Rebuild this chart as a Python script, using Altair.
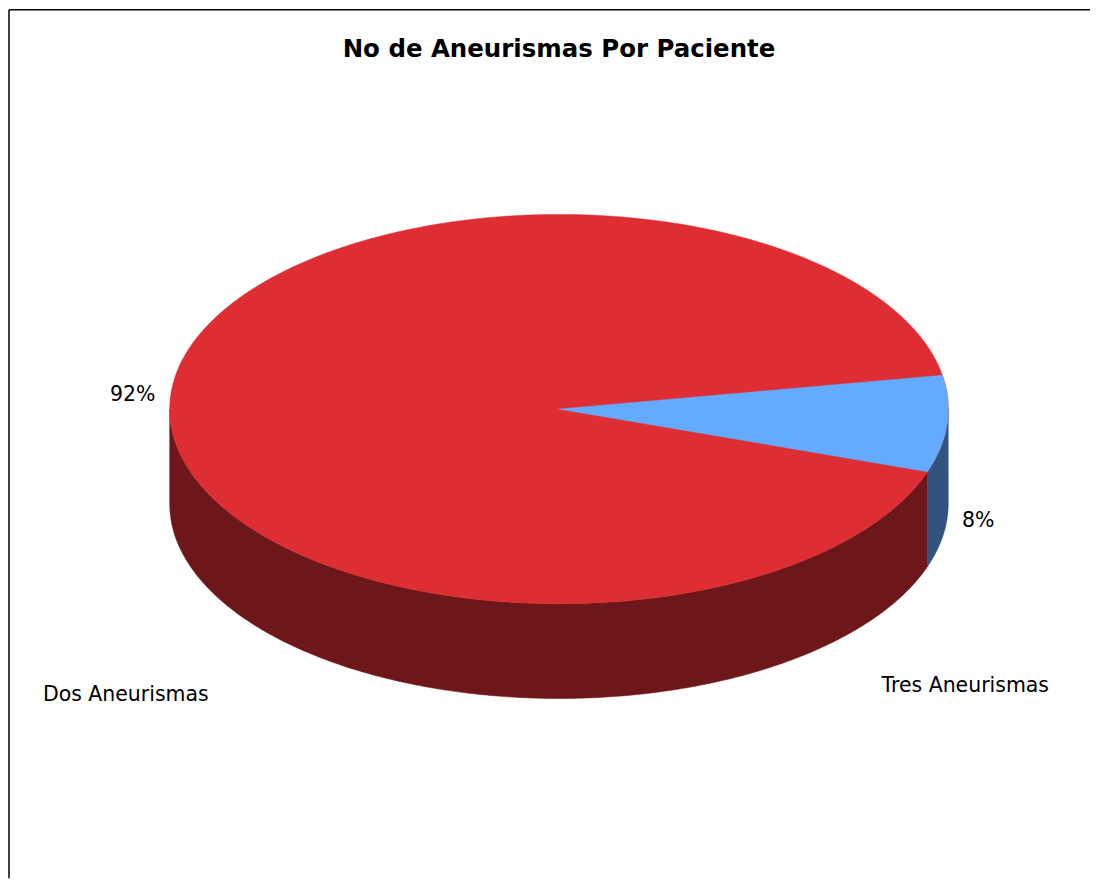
import altair as alt
import numpy as np
import pandas as pd

# ---- data ----
categories = ["Dos Aneurismas", "Tres Aneurismas"]
values = [92, 8]
pct_labels = ["92%", "8%"]
title_text = "No de Aneurismas Por Paciente"

# ---- styles / layout ----
top_colors = ["#DE2D33", "#64AAFF"]
side_colors = ["#6E171A", "#30547F"]
W, H = 1083, 870
CX, CY, RX, RY, DEPTH = 551, 400, 390, 195, 95
START_DEG = 10.0  # upper edge of the second slice (math angle)
pct_pos = [(124, 386), (971, 512)]
cat_pos = [(117, 686), (958, 677)]
title_pos = (551, 40)

total = sum(values)
sweep2 = 2 * np.pi * values[1] / total
a_hi = np.radians(START_DEG)
a_lo = a_hi - sweep2

xs_scale = alt.Scale(domain=[0, W], nice=False, zero=False)
ys_scale = alt.Scale(domain=[0, H], nice=False, zero=False, reverse=True)


def ell(a):
    return CX + RX * np.cos(a), CY - RY * np.sin(a)


def side_wall(a0, a1, n=300):
    a = np.linspace(a0, a1, n)
    x, y = ell(a)
    return pd.DataFrame({"x": x, "y": y, "y2": y + DEPTH})


def area_layer(df, color):
    df = df.sort_values("x").reset_index(drop=True).astype(float)
    return alt.Chart(df).mark_area(fill=color, stroke=color, strokeWidth=0.5,
                                   interpolate="linear", orient="vertical").encode(
        x=alt.X("x:Q", scale=xs_scale, axis=None),
        y=alt.Y("y:Q", scale=ys_scale, axis=None, stack=None),
        y2=alt.Y2("y2:Q"),
    )


# side walls (only front half visible)
dos_side = side_wall(a_lo, -np.pi)
tres_side = side_wall(0.0, a_lo)

# full top ellipse (first slice colour)
t = np.linspace(0, np.pi, 800)
top_df = pd.DataFrame({
    "x": CX + RX * np.cos(t),
    "y": CY - RY * np.sin(t),
    "y2": CY + RY * np.sin(t),
})

# wedge of the second slice on top
p1x, p1y = ell(a_hi)
p2x, p2y = ell(a_lo)
xs = np.unique(np.concatenate([
    np.linspace(CX, CX + RX, 400),
    CX + RX * np.cos(np.linspace(0, 0.7, 300)),
    [p1x, p2x],
]))
half = RY * np.sqrt(np.clip(1 - ((xs - CX) / RX) ** 2, 0, 1))
y_up = np.where(xs <= p1x, CY + (p1y - CY) * (xs - CX) / (p1x - CX), CY - half)
y_lo = np.where(xs <= p2x, CY + (p2y - CY) * (xs - CX) / (p2x - CX), CY + half)
wedge_df = pd.DataFrame({"x": xs, "y": y_up, "y2": y_lo})

layers = [
    area_layer(dos_side, side_colors[0]),
    area_layer(tres_side, side_colors[1]),
    area_layer(top_df, top_colors[0]),
    area_layer(wedge_df, top_colors[1]),
]

lab_df = pd.DataFrame({
    "text": pct_labels + categories,
    "x": [p[0] for p in pct_pos] + [p[0] for p in cat_pos],
    "y": [p[1] for p in pct_pos] + [p[1] for p in cat_pos],
})
labels = alt.Chart(lab_df).mark_text(
    font="DejaVu Sans", fontSize=20.5, color="#000000", align="center", baseline="middle"
).encode(
    x=alt.X("x:Q", scale=xs_scale, axis=None),
    y=alt.Y("y:Q", scale=ys_scale, axis=None),
    text="text:N",
)

title_df = pd.DataFrame({"text": [title_text], "x": [title_pos[0]], "y": [title_pos[1]]})
title = alt.Chart(title_df).mark_text(
    font="DejaVu Sans", fontSize=24.5, fontWeight="bold", color="#000000",
    align="center", baseline="middle"
).encode(
    x=alt.X("x:Q", scale=xs_scale, axis=None),
    y=alt.Y("y:Q", scale=ys_scale, axis=None),
    text="text:N",
)

left_border = alt.Chart(pd.DataFrame({"a": [0]})).mark_rule(color="#000000", strokeWidth=1.5).encode(
    x=alt.value(0), y=alt.value(0), y2=alt.value(H)
)
top_border = alt.Chart(pd.DataFrame({"a": [0]})).mark_rule(color="#000000", strokeWidth=1.5).encode(
    x=alt.value(0), x2=alt.value(W), y=alt.value(0)
)

chart = alt.layer(*layers, labels, title, left_border, top_border).properties(
    width=W, height=H, padding=0
).configure_view(strokeWidth=0)

chart.save("out.html", embed_options={"renderer": "svg", "actions": False})
